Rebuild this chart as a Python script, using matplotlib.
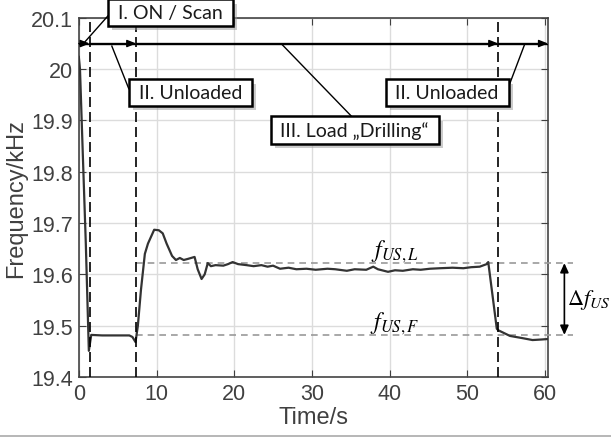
import numpy as np
import matplotlib
matplotlib.use('Agg')
import matplotlib.pyplot as plt
import matplotlib.patheffects as pe
from matplotlib.lines import Line2D

plt.rcParams['mathtext.fontset'] = 'stix'
plt.rcParams['font.family'] = ['Liberation Sans', 'DejaVu Sans']

# measured signal
time_s = [0, 0.15, 0.5, 0.9, 1.29, 1.6, 3.0, 5.0, 6.5, 6.9, 7.3, 7.6, 8.0, 8.5, 8.9,
          9.7, 10.3, 10.8, 11.3, 12.0, 12.5, 13.0, 13.5, 14.0, 14.9, 15.3, 15.8, 16.2,
          16.6, 17.0, 17.6, 18.6, 19.2, 19.8, 20.5, 21.6, 22.5, 23.5, 24.3, 25.0,
          25.9, 27.0, 28.0, 29.3, 30.5, 32.0, 33.0, 34.5, 35.5, 37.0, 37.9, 38.5,
          39.8, 40.7, 41.7, 43.0, 44.0, 45.2, 46.5, 48.1, 49.5, 50.5, 51.6, 52.5,
          52.7, 53.8, 54.0, 55.5, 57.0, 58.4, 59.5, 60.4]
freq_khz = [20.024, 20.0, 19.84, 19.66, 19.451, 19.482, 19.481, 19.481, 19.481, 19.478, 19.468,
            19.50, 19.57, 19.64, 19.66, 19.687, 19.686, 19.68, 19.66, 19.636, 19.628,
            19.632, 19.628, 19.630, 19.634, 19.61, 19.591, 19.60, 19.622, 19.616,
            19.618, 19.617, 19.620, 19.624, 19.620, 19.618, 19.616, 19.618, 19.615,
            19.617, 19.611, 19.613, 19.610, 19.611, 19.609, 19.611, 19.610, 19.607,
            19.610, 19.609, 19.615, 19.610, 19.605, 19.608, 19.607, 19.610, 19.609,
            19.611, 19.612, 19.613, 19.612, 19.614, 19.615, 19.620, 19.624, 19.494,
            19.491, 19.480, 19.476, 19.472, 19.473, 19.474]

# phase boundaries
phase_t = [1.4, 7.4, 54.0]
arrow_y = 20.05
f_load = 19.622
f_free = 19.482

fig = plt.figure(figsize=(6.11, 4.39), dpi=100)
ax = fig.add_axes([0.129, 0.139, 0.768, 0.818])

ax.plot(time_s, freq_khz, color='#333333', lw=1.6, zorder=4)

ax.set_xlim(0, 60.4)
ax.set_ylim(19.4, 20.1)
ax.set_xticks([0, 10, 20, 30, 40, 50, 60])
ax.set_yticks([19.4, 19.5, 19.6, 19.7, 19.8, 19.9, 20.0, 20.1])
ax.set_yticklabels(['19.4', '19.5', '19.6', '19.7', '19.8', '19.9', '20', '20.1'])
ax.grid(True, color='#dcdcdc', lw=1)
ax.tick_params(direction='in', top=True, right=True, labelsize=15.5,
               colors='#404040', length=5, pad=4)
for s in ax.spines.values():
    s.set_color('#444444')
    s.set_linewidth(1.2)
ax.set_xlabel('Time/s', fontsize=17, color='#404040', labelpad=2)
ax.set_ylabel('Frequency/kHz', fontsize=17, color='#404040', labelpad=3)

# phase lines
for xv in phase_t:
    ax.axvline(xv, color='black', lw=1.2, ls=(0, (6, 3)), zorder=5)

# phase arrows
bounds = [0] + phase_t + [60.4]
ax.plot([0, 60.4], [arrow_y, arrow_y], color='black', lw=1.0, zorder=5)
for a, b in zip(bounds[:-1], bounds[1:]):
    ax.annotate('', xy=(b, arrow_y), xytext=(a, arrow_y),
                arrowprops=dict(arrowstyle='-|>,head_length=0.55,head_width=0.22',
                                color='black', lw=1.0, shrinkA=0, shrinkB=0),
                annotation_clip=False, zorder=6)

# reference lines
ax.plot([7.4, 63.6], [f_load, f_load], color='#999999', lw=1.2, ls=(0, (4, 3)),
        clip_on=False, zorder=3)
ax.plot([7.4, 63.6], [f_free, f_free], color='#999999', lw=1.2, ls=(0, (4, 3)),
        clip_on=False, zorder=3)
ax.annotate('', xy=(62.5, f_free), xytext=(62.5, f_load),
            arrowprops=dict(arrowstyle='<|-|>,head_length=0.55,head_width=0.25',
                            color='black', lw=1.2, shrinkA=0, shrinkB=0),
            annotation_clip=False)
ax.text(62.8, 19.552, r'$\Delta f_{US}$', fontsize=16, va='center', ha='left',
        clip_on=False)
ax.text(40.7, 19.646, r'$f_{US,L}$', fontsize=17, ha='center', va='center')
ax.text(40.7, 19.505, r'$f_{US,F}$', fontsize=17, ha='center', va='center')

# labelled boxes with leader lines
boxes = [('I. ON / Scan', 11.8, 20.11, (3.99, 20.108), (0.77, 20.053)),
         ('II. Unloaded', 14.35, 19.954, (6.43, 19.962), (4.25, 20.045)),
         ('III. Load \u201eDrilling\u201c', 35.5, 19.881, (35.3, 19.905), (26.1, 20.049)),
         ('II. Unloaded', 47.4, 19.954, (55.3, 19.965), (57.4, 20.049))]
for txt, bx, by, p0, p1 in boxes:
    ax.plot([p0[0], p1[0]], [p0[1], p1[1]], color='black', lw=1.0,
            clip_on=False, zorder=7)
    t = ax.text(bx, by, ' ' + txt + ' ', fontsize=14, family='Lato', color='#1a1a1a',
                ha='center', va='center', clip_on=False, zorder=8,
                bbox=dict(boxstyle='square,pad=0.25', fc='white', ec='black', lw=1.8))
    t.get_bbox_patch().set_path_effects([
        pe.SimplePatchShadow(offset=(3, -3), shadow_rgbFace='#999999', alpha=0.5),
        pe.Normal()])

fig.add_artist(Line2D([0, 1], [0.004, 0.004], color='#aaaaaa', lw=1.2))

fig.savefig('out.png', dpi=100)
